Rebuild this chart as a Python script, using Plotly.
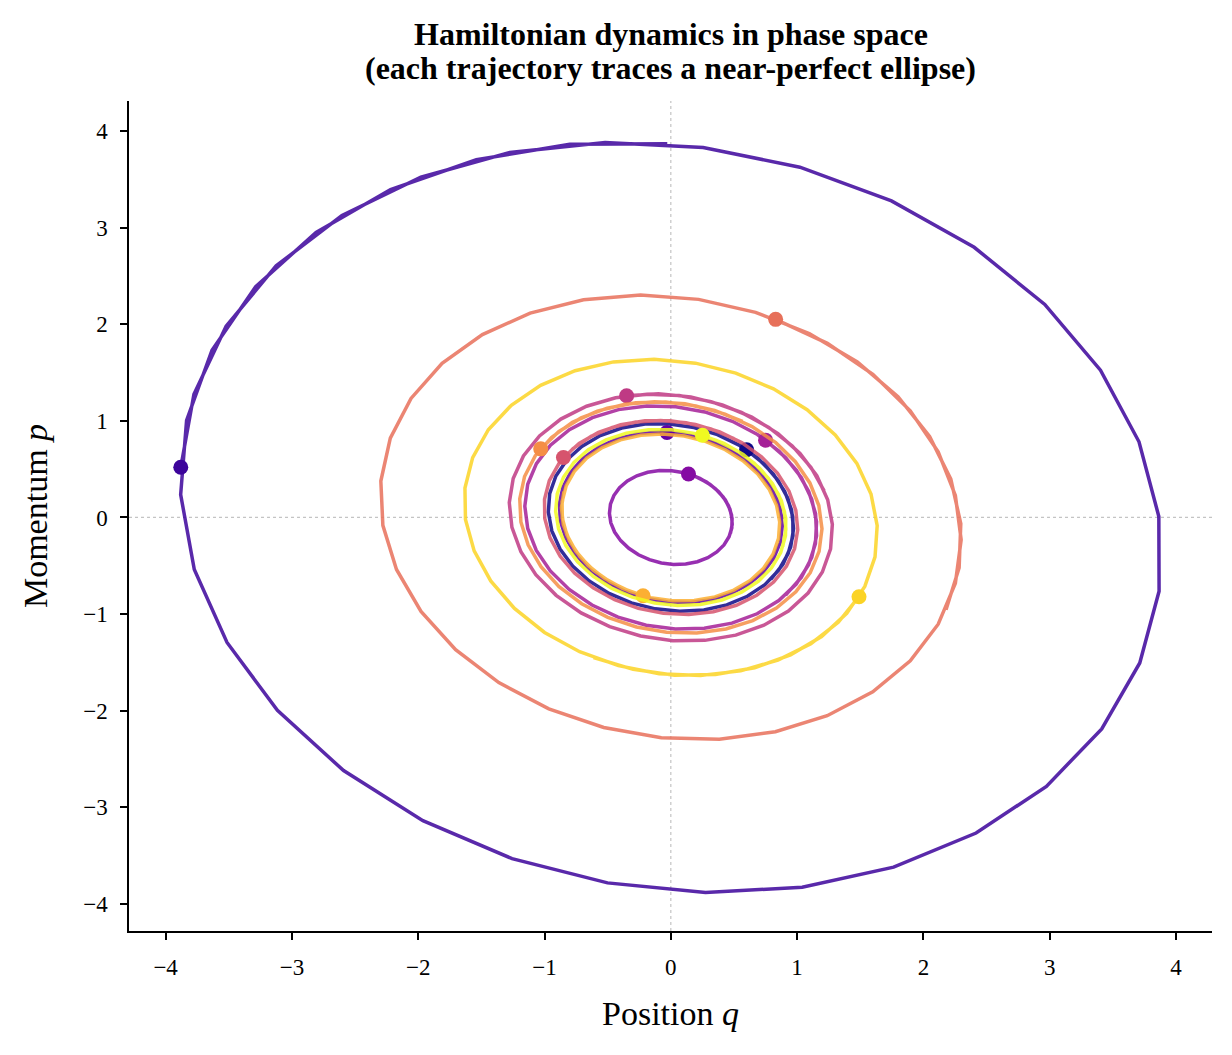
import plotly.graph_objects as go
from plotly.colors import sample_colorscale, unlabel_rgb

# ---- data: phase-space trajectories (q, p), first point = marker ----
Q0 = [0.600, 0.740, 0.850, 0.927, 0.966, 0.967, 0.929, 0.854, 0.745, 0.606, 0.443, 0.262, 0.071, -0.123, -0.312, -0.489, -0.646, -0.777, -0.877, -0.942, -0.970, -0.959, -0.910, -0.824, -0.705, -0.558, -0.389, -0.204, -0.011, 0.183, 0.369, 0.540, 0.690, 0.812, 0.902, 0.956, 0.972, 0.949, 0.888, 0.791]
P0 = [0.700, 0.552, 0.382, 0.197, 0.004, -0.189, -0.375, -0.546, -0.695, -0.816, -0.905, -0.957, -0.971, -0.946, -0.884, -0.786, -0.657, -0.502, -0.327, -0.139, 0.055, 0.247, 0.429, 0.594, 0.735, 0.847, 0.925, 0.966, 0.968, 0.931, 0.857, 0.749, 0.611, 0.449, 0.269, 0.078, -0.116, -0.306, -0.484, -0.642]

Q1 = [-3.880, -3.776, -3.521, -3.125, -2.604, -1.979, -1.275, -0.520, 0.256, 1.022, 1.747, 2.402, 2.961, 3.402, 3.707, 3.864, 3.866, 3.713, 3.412, 2.974, 2.417, 1.764, 1.040, 0.275, -0.501, -1.257, -1.963, -2.591, -3.115, -3.514, -3.773, -3.881, -3.834, -3.633, -3.287, -2.809, -2.219, -1.540, -0.800, -0.028]
P1 = [0.520, 1.275, 1.979, 2.604, 3.125, 3.521, 3.776, 3.880, 3.829, 3.625, 3.276, 2.796, 2.204, 1.524, 0.783, 0.010, -0.763, -1.506, -2.188, -2.783, -3.266, -3.619, -3.827, -3.882, -3.782, -3.531, -3.138, -2.620, -1.997, -1.294, -0.539, 0.237, 1.004, 1.731, 2.388, 2.950, 3.394, 3.702, 3.862, 3.868]

Q2 = [-0.030, 0.146, 0.316, 0.474, 0.613, 0.727, 0.812, 0.865, 0.883, 0.866, 0.814, 0.729, 0.615, 0.477, 0.320, 0.150, -0.026, -0.201, -0.368, -0.520, -0.652, -0.758, -0.833, -0.875, -0.882, -0.854, -0.791, -0.697, -0.575, -0.430, -0.268, -0.095, 0.082, 0.256, 0.419, 0.566, 0.690, 0.786, 0.851, 0.882]
P2 = [0.880, 0.851, 0.788, 0.693, 0.570, 0.425, 0.263, 0.090, -0.087, -0.260, -0.423, -0.569, -0.692, -0.787, -0.851, -0.881, -0.876, -0.836, -0.762, -0.658, -0.528, -0.376, -0.209, -0.034, 0.142, 0.313, 0.471, 0.610, 0.725, 0.811, 0.865, 0.884, 0.868, 0.817, 0.733, 0.620, 0.482, 0.325, 0.155, -0.021]

Q3 = [0.140, 0.230, 0.311, 0.379, 0.432, 0.468, 0.485, 0.483, 0.461, 0.421, 0.364, 0.293, 0.210, 0.118, 0.022, -0.075, -0.169, -0.256, -0.333, -0.397, -0.445, -0.475, -0.486, -0.478, -0.451, -0.406, -0.344, -0.269, -0.183, -0.089, 0.008, 0.105, 0.198, 0.283, 0.356, 0.415, 0.457, 0.481, 0.486, 0.472]
P3 = [0.450, 0.404, 0.342, 0.266, 0.180, 0.086, -0.011, -0.108, -0.200, -0.284, -0.357, -0.416, -0.458, -0.482, -0.486, -0.471, -0.437, -0.386, -0.319, -0.240, -0.151, -0.056, 0.041, 0.137, 0.227, 0.308, 0.377, 0.431, 0.468, 0.486, 0.484, 0.463, 0.423, 0.366, 0.295, 0.212, 0.121, 0.025, -0.072, -0.166]

Q4 = [0.750, 0.910, 1.034, 1.116, 1.154, 1.145, 1.091, 0.993, 0.855, 0.683, 0.484, 0.265, 0.036, -0.195, -0.418, -0.624, -0.805, -0.954, -1.065, -1.133, -1.156, -1.133, -1.064, -0.953, -0.803, -0.621, -0.414, -0.191, 0.040, 0.269, 0.487, 0.686, 0.858, 0.995, 1.092, 1.146, 1.154, 1.116, 1.033, 0.909]
P4 = [0.800, 0.618, 0.411, 0.188, -0.043, -0.272, -0.490, -0.689, -0.860, -0.997, -1.094, -1.147, -1.154, -1.115, -1.031, -0.906, -0.745, -0.554, -0.341, -0.114, 0.117, 0.344, 0.557, 0.748, 0.909, 1.033, 1.116, 1.154, 1.146, 1.092, 0.995, 0.858, 0.686, 0.487, 0.269, 0.040, -0.191, -0.414, -0.621, -0.803]

Q5 = [-0.350, -0.098, 0.158, 0.408, 0.641, 0.849, 1.023, 1.156, 1.242, 1.279, 1.265, 1.200, 1.087, 0.931, 0.737, 0.514, 0.270, 0.016, -0.239, -0.484, -0.710, -0.908, -1.069, -1.187, -1.258, -1.279, -1.248, -1.167, -1.040, -0.871, -0.667, -0.437, -0.189, 0.066, 0.319, 0.559, 0.776, 0.962, 1.110, 1.214]
P5 = [1.260, 1.280, 1.248, 1.166, 1.038, 0.868, 0.663, 0.432, 0.184, -0.072, -0.325, -0.565, -0.782, -0.968, -1.115, -1.218, -1.272, -1.275, -1.227, -1.130, -0.988, -0.806, -0.592, -0.355, -0.103, 0.153, 0.403, 0.636, 0.844, 1.018, 1.151, 1.238, 1.276, 1.263, 1.199, 1.087, 0.932, 0.740, 0.518, 0.275]

Q6 = [-0.850, -0.726, -0.573, -0.397, -0.205, -0.005, 0.195, 0.387, 0.564, 0.718, 0.844, 0.936, 0.990, 1.005, 0.980, 0.915, 0.814, 0.680, 0.519, 0.337, 0.142, -0.059, -0.257, -0.445, -0.615, -0.761, -0.876, -0.956, -0.998, -1.000, -0.962, -0.886, -0.774, -0.631, -0.463, -0.277, -0.080, 0.121, 0.317, 0.500]
P6 = [0.620, 0.765, 0.880, 0.959, 1.000, 1.001, 0.962, 0.885, 0.772, 0.628, 0.459, 0.272, 0.074, -0.127, -0.323, -0.506, -0.669, -0.805, -0.909, -0.976, -1.004, -0.992, -0.941, -0.852, -0.729, -0.577, -0.402, -0.211, -0.011, 0.189, 0.381, 0.558, 0.713, 0.839, 0.932, 0.987, 1.003, 0.979, 0.916, 0.816]

Q7 = [0.830, 1.240, 1.600, 1.896, 2.117, 2.253, 2.299, 2.253, 2.117, 1.896, 1.599, 1.238, 0.828, 0.384, -0.075, -0.531, -0.966, -1.362, -1.704, -1.978, -2.172, -2.280, -2.296, -2.221, -2.057, -1.811, -1.492, -1.114, -0.691, -0.240, 0.220, 0.671, 1.096, 1.477, 1.799, 2.049, 2.217, 2.296, 2.283, 2.179]
P7 = [2.050, 1.802, 1.482, 1.103, 0.680, 0.229, -0.231, -0.682, -1.105, -1.484, -1.804, -2.052, -2.218, -2.295, -2.280, -2.174, -1.981, -1.709, -1.368, -0.972, -0.538, -0.082, 0.377, 0.821, 1.232, 1.594, 1.892, 2.115, 2.253, 2.301, 2.257, 2.123, 1.904, 1.609, 1.249, 0.839, 0.396, -0.063, -0.520, -0.956]

Q8 = [-1.030, -0.888, -0.710, -0.504, -0.278, -0.041, 0.198, 0.429, 0.643, 0.831, 0.986, 1.101, 1.172, 1.197, 1.174, 1.104, 0.990, 0.836, 0.649, 0.436, 0.205, -0.034, -0.272, -0.499, -0.706, -0.885, -1.028, -1.130, -1.187, -1.196, -1.158, -1.073, -0.945, -0.779, -0.582, -0.362, -0.128, 0.112, 0.347, 0.568]
P8 = [0.710, 0.888, 1.030, 1.131, 1.187, 1.195, 1.155, 1.069, 0.940, 0.774, 0.577, 0.357, 0.123, -0.116, -0.351, -0.572, -0.770, -0.937, -1.067, -1.154, -1.195, -1.188, -1.134, -1.034, -0.893, -0.716, -0.510, -0.284, -0.047, 0.192, 0.424, 0.639, 0.828, 0.984, 1.100, 1.172, 1.198, 1.176, 1.107, 0.993]

Q9 = [-0.220, -0.382, -0.529, -0.655, -0.754, -0.823, -0.859, -0.861, -0.828, -0.762, -0.666, -0.543, -0.398, -0.237, -0.067, 0.106, 0.274, 0.431, 0.571, 0.688, 0.778, 0.837, 0.862, 0.853, 0.810, 0.734, 0.629, 0.499, 0.349, 0.185, 0.013, -0.159, -0.325, -0.478, -0.612, -0.721, -0.802, -0.851, -0.866, -0.846]
P9 = [-0.810, -0.734, -0.628, -0.497, -0.346, -0.181, -0.009, 0.163, 0.329, 0.481, 0.614, 0.723, 0.803, 0.850, 0.863, 0.842, 0.787, 0.701, 0.587, 0.449, 0.293, 0.126, -0.046, -0.217, -0.379, -0.526, -0.652, -0.752, -0.822, -0.859, -0.862, -0.830, -0.765, -0.669, -0.547, -0.403, -0.243, -0.073, 0.100, 0.269]

Q10 = [1.490, 1.326, 1.109, 0.848, 0.553, 0.235, -0.092, -0.415, -0.722, -1.000, -1.238, -1.426, -1.557, -1.626, -1.630, -1.569, -1.445, -1.263, -1.031, -0.758, -0.454, -0.132, 0.195, 0.514, 0.813, 1.079, 1.302, 1.473, 1.585, 1.634, 1.617, 1.536, 1.393, 1.194, 0.948, 0.664, 0.353, 0.028, -0.298, -0.612]
P10 = [-0.820, -1.085, -1.307, -1.477, -1.588, -1.635, -1.617, -1.534, -1.390, -1.190, -0.942, -0.657, -0.346, -0.021, 0.305, 0.619, 0.908, 1.161, 1.367, 1.519, 1.610, 1.636, 1.597, 1.494, 1.331, 1.115, 0.855, 0.560, 0.243, -0.084, -0.407, -0.714, -0.993, -1.232, -1.422, -1.555, -1.626, -1.632, -1.572, -1.450]

Q11 = [0.250, 0.420, 0.573, 0.703, 0.805, 0.875, 0.910, 0.908, 0.870, 0.797, 0.692, 0.560, 0.405, 0.234, 0.054, -0.128, -0.305, -0.470, -0.616, -0.738, -0.830, -0.889, -0.912, -0.899, -0.850, -0.767, -0.653, -0.513, -0.352, -0.177, 0.005, 0.186, 0.360, 0.520, 0.659, 0.771, 0.853, 0.900, 0.911, 0.886]
P11 = [0.850, 0.766, 0.651, 0.510, 0.349, 0.174, -0.008, -0.190, -0.364, -0.523, -0.661, -0.773, -0.854, -0.901, -0.912, -0.886, -0.825, -0.731, -0.608, -0.460, -0.294, -0.116, 0.066, 0.246, 0.416, 0.569, 0.700, 0.803, 0.873, 0.908, 0.907, 0.870, 0.798, 0.694, 0.562, 0.408, 0.237, 0.057, -0.125, -0.302]

X_TICKS = [-4, -3, -2, -1, 0, 1, 2, 3, 4]
Y_TICKS = [-4, -3, -2, -1, 0, 1, 2, 3, 4]

TITLE_LINES = ["Hamiltonian dynamics in phase space",
               "(each trajectory traces a near-perfect ellipse)"]
X_LABEL = "Position <i>q</i>"
Y_LABEL = "Momentum <i>p</i>"

trajectories = [(Q0, P0), (Q1, P1), (Q2, P2), (Q3, P3), (Q4, P4), (Q5, P5),
                (Q6, P6), (Q7, P7), (Q8, P8), (Q9, P9), (Q10, P10), (Q11, P11)]
n = len(trajectories)
colors = sample_colorscale("Plasma", [i / (n - 1) for i in range(n)])

FONT = "Liberation Serif, Times New Roman, serif"

fig = go.Figure()
for i, (q, p) in enumerate(trajectories):
    r, g, b = unlabel_rgb(colors[i])
    fig.add_trace(go.Scatter(
        x=q, y=p, mode="lines",
        line=dict(color=f"rgba({r:.0f},{g:.0f},{b:.0f},0.85)", width=3.5),
        hoverinfo="skip", showlegend=False))
    fig.add_trace(go.Scatter(
        x=[q[0]], y=[p[0]], mode="markers",
        marker=dict(color=colors[i], size=15, line=dict(width=0)),
        showlegend=False))

# dotted reference lines through the origin
fig.add_shape(type="line", xref="x", yref="paper", x0=0, x1=0, y0=0, y1=1,
              line=dict(color="#c4c4c4", width=1.2, dash="dot"), layer="below")
fig.add_shape(type="line", xref="paper", yref="y", x0=0, x1=1, y0=0, y1=0,
              line=dict(color="#c4c4c4", width=1.2, dash="dot"), layer="below")

# two-line bold title
for text, ypos in zip(TITLE_LINES, [1.0807, 1.0398]):
    fig.add_annotation(text=f"<b>{text}</b>", xref="paper", yref="paper",
                       x=0.5, y=ypos, xanchor="center", yanchor="middle",
                       showarrow=False,
                       font=dict(family=FONT, size=32, color="black"))

axis_common = dict(
    showgrid=False, zeroline=False, showline=True, linecolor="black", linewidth=1.5,
    ticks="outside", ticklen=7, tickwidth=1.5, tickcolor="black",
    tickfont=dict(family=FONT, size=23, color="black"),
    ticklabelstandoff=8,
    mirror=False,
)

fig.update_layout(
    width=1232, height=1055,
    paper_bgcolor="white", plot_bgcolor="white",
    margin=dict(l=129, r=20, t=101, b=124),
    font=dict(family=FONT, color="black"),
    xaxis=dict(range=[-4.29, 4.285], tickvals=X_TICKS,
               title=dict(text=X_LABEL, font=dict(family=FONT, size=34), standoff=22),
               **axis_common),
    yaxis=dict(range=[-4.28, 4.31], tickvals=Y_TICKS,
               title=dict(text=Y_LABEL, font=dict(family=FONT, size=34), standoff=25),
               **axis_common),
)

fig.write_html("out.html")
